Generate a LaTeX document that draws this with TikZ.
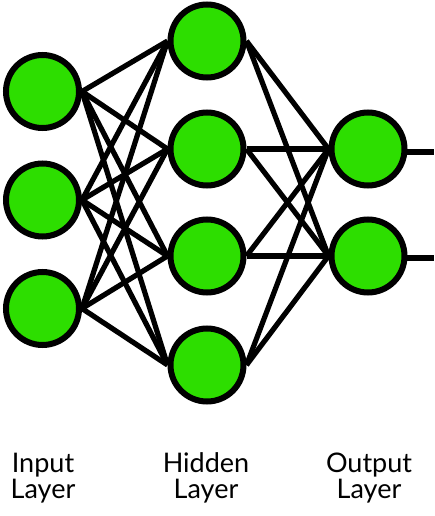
\documentclass[tikz,border=0pt]{standalone}
\usepackage{fontspec}
\setmainfont{Lato}
\definecolor{neuron}{HTML}{2DDE00}
\begin{document}
\begin{tikzpicture}[x=1pt,y=-1pt,
  neuronnode/.style={circle,draw=black,fill=neuron,line width=6pt,minimum size=73pt,inner sep=0pt},
  link/.style={line width=5.2pt,black},
  layerlabel/.style={align=center,font=\fontsize{27}{25.5}\selectfont,anchor=base,inner sep=0pt}]
\useasboundingbox (0,0) rectangle (434,516);
\coordinate (e1) at (434,152);
\coordinate (e2) at (434,258);
\node[neuronnode] (i1) at (42.5,91.5) {};
\node[neuronnode] (i2) at (42.5,200) {};
\node[neuronnode] (i3) at (42.5,308.5) {};
\node[neuronnode] (h1) at (207,41) {};
\node[neuronnode] (h2) at (207,149) {};
\node[neuronnode] (h3) at (207,256) {};
\node[neuronnode] (h4) at (207,365) {};
\draw[link] (e1 -| 368,0) -- (e1);
\draw[link] (e2 -| 368,0) -- (e2);
\node[neuronnode] (o1) at (368,149) {};
\node[neuronnode] (o2) at (368,256) {};
\foreach \a in {i1,i2,i3}{
  \foreach \b in {h1,h2,h3,h4}{
    \draw[link] (\a.east) -- (\b.west);
  }
}
\foreach \a in {h1,h2,h3,h4}{
  \foreach \b in {o1,o2}{
    \draw[link] (\a.east) -- (\b.west);
  }
}
\node[layerlabel] (li) at (43,498) {Input\\Layer};
\node[layerlabel] (lh) at (206,498) {Hidden\\Layer};
\node[layerlabel] (lo) at (369,498) {Output\\Layer};
\end{tikzpicture}
\end{document}
